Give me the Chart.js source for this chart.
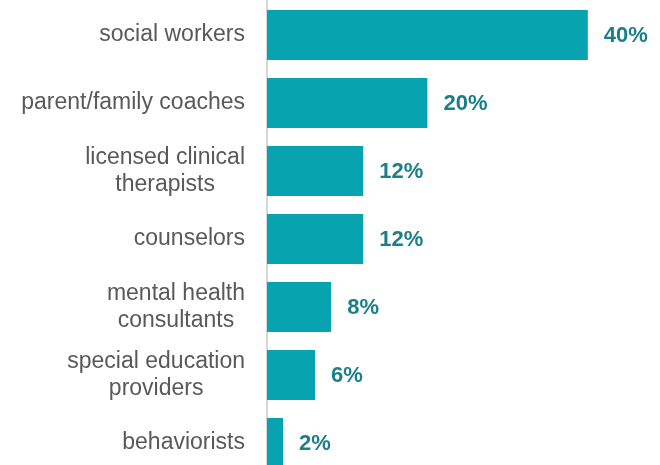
<!DOCTYPE html>
<html>
<head>
<meta charset="utf-8">
<script src="https://cdn.jsdelivr.net/npm/chart.js@4"></script>
<style>
  html, body { margin: 0; padding: 0; background: #fff; overflow: hidden; }
  #wrap { position: relative; width: 660px; height: 478px; }
</style>
</head>
<body>
<div id="wrap"><canvas id="chart"></canvas></div>
<script>
// categories (multi-line ones split into lines)
var categories = [
  ['social workers'],
  ['parent/family coaches'],
  ['licensed clinical', 'therapists'],
  ['counselors'],
  ['mental health', 'consultants'],
  ['special education', 'providers'],
  ['behaviorists']
];
var shares = [40, 20, 12, 12, 8, 6, 2];
var valueLabels = ['40%', '20%', '12%', '12%', '8%', '6%', '2%'];

var LABEL_FONT = '23px "Liberation Sans", Arial, sans-serif';
var VALUE_FONT = 'bold 22px "Liberation Sans", Arial, sans-serif';

// draw category labels: block right-aligned, lines centered inside the block
var categoryLabels = {
  id: 'categoryLabels',
  afterDraw: function(chart) {
    var ctx = chart.ctx;
    var yScale = chart.scales.y;
    var right = chart.chartArea.left - 22;
    var lineH = 27;
    ctx.save();
    ctx.font = LABEL_FONT;
    ctx.fillStyle = '#595959';
    ctx.textAlign = 'center';
    ctx.textBaseline = 'middle';
    categories.forEach(function(lines, i) {
      var y = yScale.getPixelForValue(i);
      var maxW = 0;
      lines.forEach(function(l) { maxW = Math.max(maxW, ctx.measureText(l).width); });
      var cx = right - maxW / 2;
      var y0 = y - (lines.length - 1) * lineH / 2;
      lines.forEach(function(l, j) { ctx.fillText(l, cx, y0 + j * lineH); });
    });
    ctx.restore();
  }
};

var valueText = {
  id: 'valueText',
  afterDatasetsDraw: function(chart) {
    var ctx = chart.ctx;
    var meta = chart.getDatasetMeta(0);
    ctx.save();
    ctx.font = VALUE_FONT;
    ctx.fillStyle = '#1A7F8A';
    ctx.textAlign = 'left';
    ctx.textBaseline = 'middle';
    meta.data.forEach(function(bar, i) {
      ctx.fillText(valueLabels[i], bar.x + 16, bar.y + 1);
    });
    ctx.restore();
  }
};

new Chart(document.getElementById('chart'), {
  type: 'bar',
  data: {
    labels: categories.map(function(c) { return c.join(' '); }),
    datasets: [{
      data: shares,
      backgroundColor: '#07A4B0',
      borderWidth: 0,
      barPercentage: 0.735,
      categoryPercentage: 1
    }]
  },
  options: {
    indexAxis: 'y',
    responsive: true,
    maintainAspectRatio: false,
    animation: false,
    layout: { padding: { top: 1, bottom: 1, left: 0, right: 0 } },
    plugins: { legend: { display: false }, tooltip: { enabled: false } },
    scales: {
      x: {
        display: false,
        min: 0,
        max: 49
      },
      y: {
        grid: { display: false },
        border: { display: true, color: '#d6d6d6', width: 2 },
        ticks: { display: false },
        afterFit: function(scale) { scale.width = 267; }
      }
    }
  },
  plugins: [categoryLabels, valueText]
});
</script>
</body>
</html>
